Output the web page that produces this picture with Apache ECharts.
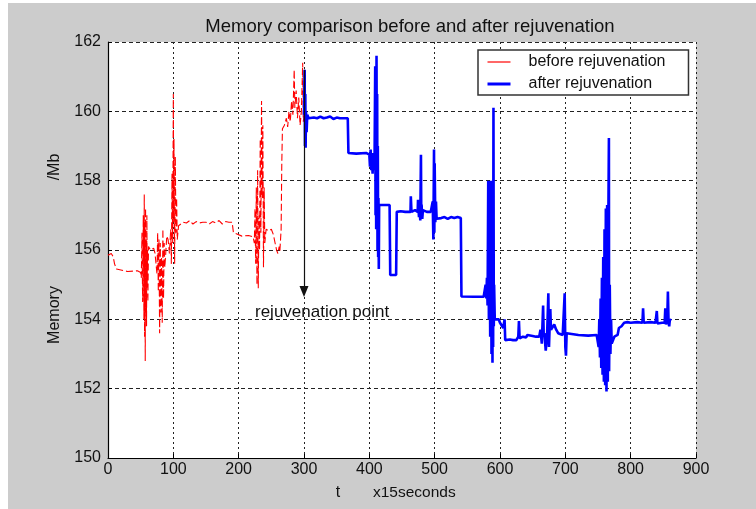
<!DOCTYPE html>
<html>
<head>
<meta charset="utf-8">
<script src="https://cdn.jsdelivr.net/npm/echarts@6/dist/echarts.min.js"></script>
<style>
html,body{margin:0;padding:0;background:#fff;}
#c{position:absolute;left:8px;top:3px;width:748px;height:506px;}
</style>
</head>
<body>
<div id="c"></div>
<script>
const titleText = 'Memory comparison before and after rejuvenation';
const seriesNames = ['before rejuvenation', 'after rejuvenation'];
const xTicks = {min: 0, max: 900, interval: 100};
const yTicks = {min: 150, max: 162, interval: 2};
const rejuvenationX = 300;
const arrowFrom = 161.2;
const arrowTo = 154.8;
const annotationText = 'rejuvenation point';

const beforeData = [
[0,155.85],[5,155.9],[8,155.8],[10,155.6],[13,155.45],[15,155.4],[30,155.38],[45,155.4],[50,155.35],
[51,155.2],[52,156.5],[53,154.5],[54,157.0],[55,154.0],[55.5,157.6],[56,153.5],[56.5,156.8],[57,152.8],[57.5,157.2],[58,154.2],[58.5,156.3],[59,153.8],[59.5,157.0],[60,155.0],[60.5,156.0],[61,154.5],[62,156.1],[65,156.0],[70,156.05],[72,155.9],
[75,155.3],[76,156.5],[77,154.8],[78,156.3],[79,153.6],[80,156.2],[81,154.2],[82,155.8],[83,153.9],[84,156.6],[85,154.6],[86,156.2],[87,155.5],[90,156.4],[92,156.3],[94,155.9],
[96,156.6],[97,155.6],[98,158.2],[99,156.2],[100,160.5],[100.5,156.8],[101,159.2],[102,155.6],[103,158.7],[104,156.5],[105,157.5],[106,156.3],[108,156.7],
[110,156.75],[115,156.8],[120,156.78],[125,156.85],[130,156.75],[135,156.82],[140,156.78],[145,156.8],[150,156.8],[155,156.75],[160,156.82],[165,156.78],[170,156.85],[175,156.75],[180,156.82],[185,156.8],[190,156.8],[192,156.5],[195,156.45],[205,156.4],[215,156.42],[222,156.38],
[224,156.2],[225,157.2],[226,155.6],[227,157.8],[228,155.0],[229,158.3],[230,154.9],[231,157.0],[232,156.0],[233,159.2],[234,156.5],[235,160.3],[236,157.5],[237,159.6],[238,155.5],[239,157.8],[240,156.2],[242,156.6],
[246,156.55],[250,156.6],[253,156.45],[256,156.5],[258,156.0],[260,155.9],[262,156.1],[263,155.95],
[265,156.6],[266,158.5],[267,159.5],[270,159.6],[273,159.8],[275,159.55],[277,160.0],[279,159.7],[281,160.3],[283,159.9],[285,161.2],[286,160.1],[288,160.6],[290,159.8],[292,160.4],[294,159.6],[296,160.0],[298,161.4],[299,159.7],[300,159.9]
];

const afterData = [
[300,159.9],[301,161.2],[301.5,159.0],[302,160.5],[302.5,158.95],[303,160.0],[304,159.4],[305,159.9],[307,159.8],[315,159.82],[320,159.8],[325,159.85],[330,159.8],[335,159.82],[340,159.85],[345,159.78],[350,159.82],[355,159.8],[360,159.8],[367,159.8],[368,158.8],[380,158.78],[395,158.8],[400,158.75],
[401,158.4],[402,158.9],[403,158.3],[404,158.7],[405,158.2],[406,158.8],[407,158.3],[408,158.6],[409,161.3],[409.5,157.0],[410,161.0],[410.5,156.6],[411,161.6],[411.5,157.5],[412,160.5],[412.5,156.0],[413,159.0],[413.5,155.8],[414,157.5],[414.5,155.45],[415,157.3],[416,157.3],
[431,157.3],[432,155.28],[441,155.28],[442,157.1],[448,157.12],[455,157.1],[463,157.1],[463.5,157.55],[464.5,157.1],[470,157.15],[474,157.1],[474.5,157.45],[476,156.95],[477,157.2],[478,156.85],[479,158.75],[479.5,157.0],[480,157.3],[481,156.9],[482,157.15],[485,157.1],[488,157.1],[494,157.1],[496,157.1],[497,157.4],[498,156.3],[499,158.9],[499.5,156.5],[500,158.5],[501,156.8],[502,157.4],[503,156.9],[505,156.95],[510,156.92],[515,156.95],[520,156.9],[525,156.95],[530,156.92],[535,156.95],[540,156.92],[541,154.66],[560,154.65],[575,154.65],
[578,155.0],[579,154.6],[580,155.2],[581,154.4],[582,158.0],[583,154.0],[584,157.6],[585,153.5],[586,158.0],[587,153.0],[588,157.5],[588.5,152.75],[589,158.0],[589.5,153.2],[590,160.1],[590.5,153.8],[591,155.0],[592,154.0],
[595,153.95],[598,154.0],[600,153.9],[603,153.95],[605,153.75],[607,154.0],[608,153.4],[615,153.42],[620,153.4],[622,153.45],[625,153.4],[628,153.5],[629,153.95],[630,153.45],[635,153.5],[640,153.48],[642,153.55],[645,153.5],[650,153.52],[655,153.5],[658,153.45],[660,153.5],[662,153.7],[664,153.3],[666,154.4],[667,153.5],[668,153.6],[670,153.1],[672,153.5],[674,154.75],[675,153.2],[676,153.8],[677,154.3],[678,153.7],[680,153.75],[683,153.85],[686,153.7],[689,153.6],[692,153.55],[696,153.55],[698,153.5],[699,154.75],[700,153.2],[701,152.95],[702,153.6],[705,153.55],[720,153.55],[735,153.53],[748,153.55],
[751,153.2],[752,154.0],[753,152.9],[754,154.6],[755,152.6],[756,155.2],[757,152.4],[758,155.8],[759,152.2],[760,156.6],[761,152.1],[762,157.2],[763,151.92],[764,157.3],[765,152.2],[766,157.3],[766.7,159.23],[767,152.5],[768,155.0],[769,153.0],[770,154.0],[771,153.3],[775,153.5],[780,153.55],[782,153.75],[786,153.8],[790,153.9],[795,153.92],[800,153.9],[810,153.92],[818,153.9],[819,154.32],[820,153.9],[830,153.92],[838,153.9],[840,154.24],[841,153.88],[848,153.9],[852,153.9],[853,154.32],[854,153.85],[856,154.0],[857,154.8],[858,153.9],[859,153.8],[860,154.0],[862,153.96]
];

const FONT = 'Liberation Sans, Arial, Helvetica, sans-serif';
const TXT = '#111';
const chart = echarts.init(document.getElementById('c'), null, {renderer: 'canvas'});

const option = {
  animation: false,
  backgroundColor: '#cccccc',
  textStyle: {fontFamily: FONT},
  title: {
    text: titleText, left: 397, textAlign: 'center', top: 9,
    textStyle: {fontFamily: FONT, fontSize: 18.5, fontWeight: 'normal', color: TXT}
  },
  legend: {
    orient: 'vertical', left: 470, top: 47, padding: [4, 23, 3, 8],
    backgroundColor: '#fff', borderColor: '#333', borderWidth: 1.5,
    itemWidth: 23, itemHeight: 14, itemGap: 6,
    itemStyle: {opacity: 0},
    textStyle: {fontFamily: FONT, fontSize: 16, color: TXT, padding: [0, 0, 0, 13]},
    data: [
      {name: seriesNames[0], lineStyle: {type: 'solid', width: 1.2}},
      {name: seriesNames[1], lineStyle: {type: 'solid', width: 3}}
    ]
  },
  grid: {left: 100, top: 39, width: 588, height: 416, show: true, backgroundColor: '#fff', borderWidth: 0},
  xAxis: {
    type: 'value', min: xTicks.min, max: xTicks.max, interval: xTicks.interval,
    axisLine: {show: true, lineStyle: {color: '#000', width: 1.2}},
    axisTick: {show: true, inside: true, length: 4, lineStyle: {color: '#000'}},
    axisLabel: {fontFamily: FONT, fontSize: 16, color: TXT, margin: 4},
    splitLine: {show: true, lineStyle: {color: '#222', type: [2, 3], width: 1}}
  },
  yAxis: {
    type: 'value', min: yTicks.min, max: yTicks.max, interval: yTicks.interval,
    axisLine: {show: true, lineStyle: {color: '#000', width: 1.2}},
    axisTick: {show: true, inside: true, length: 4, lineStyle: {color: '#000'}},
    axisLabel: {fontFamily: FONT, fontSize: 16, color: TXT, margin: 7},
    splitLine: {show: true, lineStyle: {color: '#222', type: [4, 3], width: 1}}
  },
  series: [
    {
      name: seriesNames[0], type: 'line', data: beforeData, symbol: 'none',
      lineStyle: {color: '#ff0000', width: 1.1, type: [7, 3]}, itemStyle: {color: '#ff0000'}, z: 3
    },
    {
      name: seriesNames[1], type: 'line', data: afterData, symbol: 'none',
      lineStyle: {color: '#0000ff', width: 2.6}, itemStyle: {color: '#0000ff'}, z: 4,
      markLine: {
        silent: true, symbol: ['none', 'triangle'], symbolSize: [9, 11],
        lineStyle: {color: '#111', width: 1.2, type: 'solid'},
        label: {show: false},
        data: [[{coord: [rejuvenationX, arrowFrom]}, {coord: [rejuvenationX, arrowTo]}]]
      }
    }
  ]
};
chart.setOption(option);

const p = chart.convertToPixel({gridIndex: 0}, [225, 154.2]);
chart.setOption({
  graphic: [
    {type: 'text', x: p[0], y: p[1], style: {text: annotationText, font: '17px ' + FONT, fill: TXT, verticalAlign: 'middle'}},
    {type: 'text', x: 47, y: 312, rotation: Math.PI / 2, style: {text: 'Memory', font: '16px ' + FONT, fill: TXT, align: 'center', verticalAlign: 'middle'}},
    {type: 'text', x: 47, y: 164, rotation: Math.PI / 2, style: {text: '/Mb', font: '16px ' + FONT, fill: TXT, align: 'center', verticalAlign: 'middle'}},
    {type: 'text', x: 330, y: 490, style: {text: 't', font: '16px ' + FONT, fill: TXT, align: 'center', verticalAlign: 'middle'}},
    {type: 'text', x: 365, y: 490, style: {text: 'x15seconds', font: '15.5px ' + FONT, fill: TXT, align: 'left', verticalAlign: 'middle'}}
  ]
});
</script>
</body>
</html>
